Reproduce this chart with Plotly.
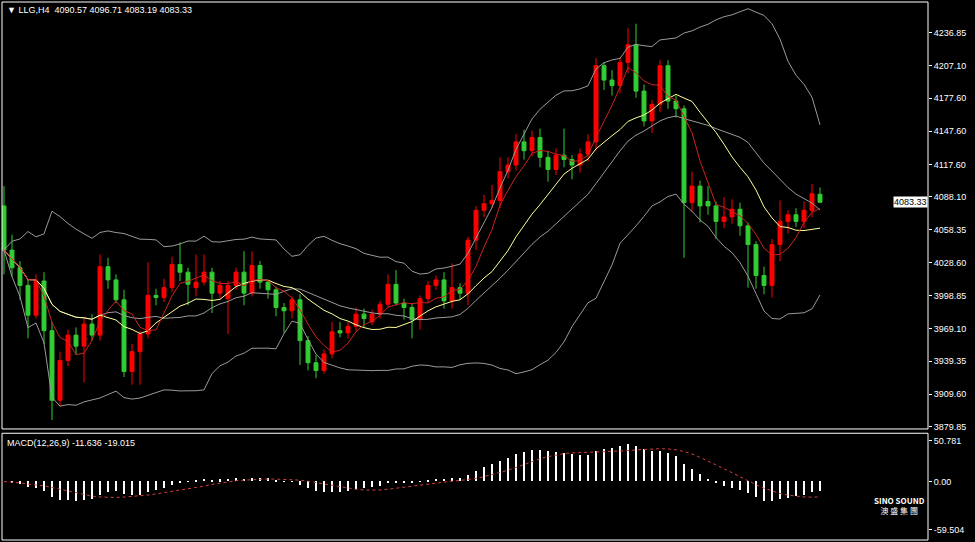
import pandas as pd
import plotly.graph_objects as go
from plotly.subplots import make_subplots

# LLG H4 candles
opens = [4080, 4040, 4024, 4008, 3981, 4012, 3967, 3904, 3940, 3963,
         3953, 3973, 3963, 4025, 4013, 3995, 3930, 3948, 3964, 3999,
         3997, 4006, 4027, 4020, 4006, 4011, 4020, 4001, 3996, 4008,
         4020, 4001, 4026, 4011, 4004, 3988, 3985, 3995, 3958, 3938,
         3931, 3946, 3967, 3965, 3971, 3982, 3975, 3982, 3991, 4009,
         3992, 3988, 3977, 3996, 4008, 4013, 3994, 4006, 4001, 4049,
         4076, 4082, 4085, 4111, 4117, 4138, 4130, 4142, 4124, 4113,
         4126, 4122, 4117, 4127, 4138, 4207, 4194, 4189, 4210, 4226,
         4184, 4157, 4172, 4207, 4175, 4168, 4083, 4098, 4084, 4080,
         4066, 4070, 4077, 4062, 4045, 4017, 4008, 4045, 4066, 4072,
         4066, 4076, 4090.57]
closes = [4040, 4024, 4008, 3981, 4012, 3967, 3904, 3940, 3963, 3953,
          3973, 3963, 4025, 4013, 3995, 3930, 3948, 3964, 3999, 3997,
          4006, 4027, 4020, 4009, 4011, 4020, 4001, 4008, 4008, 4020,
          4001, 4026, 4011, 4004, 3988, 3985, 3995, 3958, 3938, 3931,
          3946, 3966, 3965, 3971, 3982, 3978, 3982, 3991, 4009, 3992,
          3988, 3977, 3996, 4008, 4013, 3994, 4006, 4001, 4049, 4076,
          4082, 4085, 4111, 4117, 4138, 4130, 4142, 4124, 4113, 4126,
          4122, 4117, 4127, 4138, 4207, 4194, 4189, 4210, 4226, 4184,
          4157, 4172, 4207, 4175, 4168, 4083, 4098, 4080, 4080, 4066,
          4070, 4077, 4062, 4045, 4017, 4008, 4045, 4066, 4072, 4066,
          4076, 4091, 4083.33]
highs = [4098, 4054, 4030, 4013, 4018, 4020, 3975, 3948, 3968, 3970,
         3978, 3982, 4036, 4033, 4018, 4004, 3955, 3967, 4029, 4005,
         4014, 4034, 4047, 4024, 4036, 4036, 4024, 4012, 4012, 4024,
         4039, 4039, 4030, 4013, 4007, 3992, 3998, 4000, 3962, 3945,
         3950, 3975, 3975, 3975, 3988, 3987, 3986, 3994, 4018, 4022,
         3996, 3992, 3999, 4012, 4017, 4020, 4028, 4010, 4052, 4080,
         4090, 4099, 4124, 4124, 4145, 4149, 4148, 4150, 4130, 4132,
         4150, 4126, 4132, 4145, 4214, 4210, 4203, 4215, 4241, 4245,
         4190, 4176, 4212, 4212, 4180, 4171, 4111, 4103, 4098, 4084,
         4088, 4086, 4083, 4065, 4048, 4025, 4050, 4085, 4076, 4078,
         4084, 4100, 4096.71]
lows = [4018, 4016, 3995, 3960, 3978, 3955, 3886, 3898, 3935, 3945,
        3920, 3958, 3958, 4005, 3992, 3925, 3918, 3918, 3960, 3990,
        3993, 4002, 4012, 3990, 3998, 4008, 3983, 3996, 3964, 4004,
        3990, 3998, 4005, 3996, 3980, 3965, 3978, 3936, 3931, 3924,
        3928, 3942, 3961, 3960, 3966, 3970, 3972, 3978, 3988, 3990,
        3977, 3960, 3968, 3992, 4004, 3987, 3987, 3995, 3990, 4040,
        4070, 4078, 4078, 4105, 4112, 4122, 4125, 4115, 4102, 4108,
        4115, 4104, 4110, 4120, 4130, 4185, 4180, 4182, 4200, 4178,
        4152, 4146, 4165, 4168, 4160, 4033, 4075, 4065, 4072, 4050,
        4060, 4064, 4053, 4006, 4005, 4000, 3997, 4030, 4055, 4061,
        4060, 4070, 4083.19]

yticks = [4236.85, 4207.10, 4177.60, 4147.60, 4117.60, 4088.10, 4058.35,
          4028.60, 3998.85, 3969.10, 3939.35, 3909.60, 3879.85]
macd_ticks = [50.781, 0.0, -59.504]

x = list(range(len(closes)))
s = pd.Series(closes)
ma_fast = s.rolling(5, min_periods=1).mean()
ma_slow = s.rolling(13, min_periods=1).mean()
bb_mid = s.rolling(20, min_periods=1).mean()
bb_sd = s.rolling(20, min_periods=1).std(ddof=0)
bb_up = bb_mid + 2 * bb_sd
bb_lo = bb_mid - 2 * bb_sd
macd = s.ewm(span=12, adjust=False).mean() - s.ewm(span=26, adjust=False).mean()
signal = macd.rolling(9, min_periods=1).mean()

fig = make_subplots(rows=2, cols=1, shared_xaxes=True, row_heights=[0.8, 0.2],
                    vertical_spacing=0.008)

for band in (bb_up, bb_mid, bb_lo):
    fig.add_trace(go.Scatter(x=x, y=band, mode='lines',
                             line=dict(color='#9a9a9a', width=1)), row=1, col=1)
fig.add_trace(go.Scatter(x=x, y=ma_slow, mode='lines',
                         line=dict(color='#ffff99', width=1)), row=1, col=1)
fig.add_trace(go.Scatter(x=x, y=ma_fast, mode='lines',
                         line=dict(color='#cc2222', width=1)), row=1, col=1)
fig.add_trace(go.Candlestick(x=x, open=opens, high=highs, low=lows, close=closes,
                             increasing=dict(line=dict(color='#ff0000', width=1), fillcolor='#ff0000'),
                             decreasing=dict(line=dict(color='#33cc33', width=1), fillcolor='#33cc33'),
                             whiskerwidth=0), row=1, col=1)

fig.add_trace(go.Bar(x=x, y=macd, width=0.1, marker=dict(color='white', line_width=0)),
              row=2, col=1)
fig.add_trace(go.Scatter(x=x, y=signal, mode='lines',
                         line=dict(color='#d04040', width=1, dash='dot')), row=2, col=1)

axfont = dict(family='Liberation Sans', size=9, color='white')
fig.update_xaxes(range=[-0.25, 115.5], showticklabels=False, showgrid=False,
                 zeroline=False, rangeslider_visible=False)
fig.update_yaxes(side='right', showgrid=False, zeroline=False, ticks='outside',
                 ticklen=3, tickcolor='white', tickfont=axfont)
fig.update_yaxes(range=[3878, 4264.7], tickvals=yticks,
                 ticktext=['%.2f' % v for v in yticks], row=1, col=1)
fig.update_yaxes(range=[-72.2, 59.7], tickvals=macd_ticks,
                 ticktext=['50.781', '0.00', '-59.504'], row=2, col=1)

fig.update_layout(
    width=975, height=542, margin=dict(l=2, r=47, t=2, b=2, autoexpand=False),
    paper_bgcolor='black', plot_bgcolor='black', showlegend=False,
    bargap=0,
    shapes=[
        dict(type='rect', xref='x domain', yref='y domain', x0=0, x1=1, y0=0, y1=1,
             line=dict(color='white', width=1)),
        dict(type='rect', xref='x2 domain', yref='y2 domain', x0=0, x1=1, y0=0, y1=1,
             line=dict(color='white', width=1)),
    ],
    annotations=[
        dict(xref='x domain', yref='y domain', x=0.003, y=0.997, xanchor='left', yanchor='top',
             text='▼ LLG,H4  4090.57 4096.71 4083.19 4083.33', showarrow=False,
             font=dict(family='Liberation Sans', size=9, color='white')),
        dict(xref='x2 domain', yref='y2 domain', x=0.003, y=0.97, xanchor='left', yanchor='top',
             text='MACD(12,26,9) -11.636 -19.015', showarrow=False,
             font=dict(family='Liberation Sans', size=9, color='white')),
        dict(xref='paper', yref='y', x=1.0, y=4083.33, xanchor='right', yanchor='middle',
             text='4083.33', showarrow=False, bgcolor='white', borderpad=0,
             font=dict(family='Liberation Sans', size=9, color='black')),
        dict(xref='paper', yref='paper', x=0.999, y=0.04, xanchor='right',
             text='<b>SINO SOUND</b><br>澳 盛 集 團', showarrow=False, align='center',
             font=dict(family='Noto Sans CJK TC', size=8, color='white')),
    ],
)

fig.write_html("out.html", config={'displayModeBar': False},
               post_script="document.body.style.margin='0px';")
